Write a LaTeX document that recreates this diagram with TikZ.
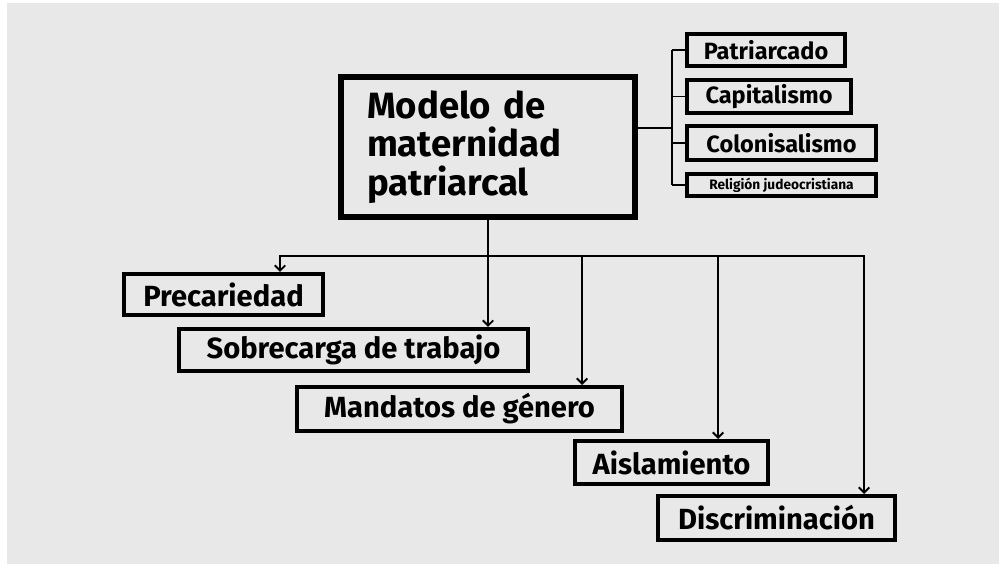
\documentclass[tikz,border=0pt]{standalone}
\usepackage{fontspec}
\setmainfont{Fira Sans}
\usetikzlibrary{arrows.meta}
\definecolor{fondogris}{RGB}{232,232,232}

\tikzset{
  caja/.style={draw=black,line width=2.3pt,fill=fondogris,inner sep=0pt,
    font=\bfseries\fontsize{16.6}{19}\selectfont},
  cajader/.style={caja,font=\bfseries\fontsize{13.4}{15}\selectfont},
  flecha/.style={line width=1.1pt,-{Straight Barb[length=3pt,width=6pt,line width=1.1pt]}},
}

\begin{document}
\begin{tikzpicture}[x=0.02cm,y=-0.02cm]
  \useasboundingbox (0,0) rectangle (999,564);
  \fill[white] (0,0) rectangle (999,564);
  \fill[fondogris] (7,3) rectangle (999,564);

  % caja principal
  \node[caja,line width=3.4pt,minimum width=5.88cm,minimum height=2.8cm,
    text width=4.84cm,inner xsep=0.52cm,align=left,
    font=\bfseries\fontsize{20.8}{21.8}\selectfont] (modelo) at (488,147)
    {\raisebox{-0.14cm}{\parbox{4.84cm}{Modelo de\\ maternidad\\ patriarcal}}};

  % causas
  \node[cajader,minimum width=3.16cm,minimum height=0.64cm] (patr) at (766,50) {Patriarcado};
  \node[cajader,minimum width=3.28cm,minimum height=0.66cm] (capi) at (769,96.5) {Capitalismo};
  \node[cajader,minimum width=3.78cm,minimum height=0.68cm] (colo) at (781.5,143) {Colonisalismo};
  \node[cajader,minimum width=3.78cm,minimum height=0.44cm,
    font=\bfseries\fontsize{7.8}{9}\selectfont] (reli) at (781.5,185) {Religión judeocristiana};

  % consecuencias
  \node[caja,minimum width=3.98cm,minimum height=0.82cm] (prec) at (223.5,294.5) {Precariedad};
  \node[caja,minimum width=6.98cm,minimum height=0.84cm] (sobr) at (353.5,350) {Sobrecarga de trabajo};
  \node[caja,minimum width=6.5cm,minimum height=0.88cm] (mand) at (459.5,409) {Mandatos de género};
  \node[caja,minimum width=3.86cm,minimum height=0.86cm] (aisl) at (671.5,462.5) {Aislamiento};
  \node[caja,minimum width=4.74cm,minimum height=0.88cm] (disc) at (776.5,518) {Discriminación};

  % conectores a la derecha
  \coordinate (eje) at (672,128);
  \draw[line width=1.1pt] (modelo.east |- eje) -- (eje);
  \draw[line width=1.1pt] (patr.west -| eje) -- (reli.west -| eje);
  \foreach \c in {patr,capi,colo,reli}
    \draw[line width=1.1pt] (\c.west -| eje) -- (\c.west);

  % conectores hacia abajo
  \coordinate (xp) at (280,256);
  \coordinate (xm) at (582,256);
  \coordinate (xa) at (718,256);
  \coordinate (xd) at (864,256);
  \draw[flecha,{Straight Barb[length=3pt,width=6pt,line width=1.1pt]}-{Straight Barb[length=3pt,width=6pt,line width=1.1pt]}]
    (xp |- prec.north) -- (xp) -- (xd) -- (xd |- disc.north);
  \draw[flecha] (modelo.south) -- (modelo.south |- sobr.north);
  \draw[flecha] (xm) -- (xm |- mand.north);
  \draw[flecha] (xa) -- (xa |- aisl.north);
\end{tikzpicture}
\end{document}
